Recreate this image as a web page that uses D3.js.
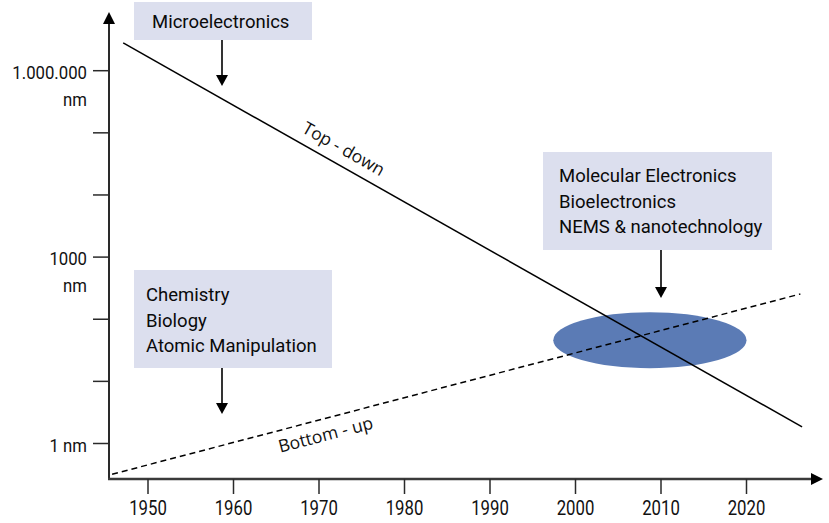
<!DOCTYPE html>
<html>
<head>
<meta charset="utf-8">
<script src="https://cdn.jsdelivr.net/npm/d3@7"></script>
<style>
  html, body { margin: 0; padding: 0; background: #fff; }
  svg { display: block; }
  text { font-family: Roboto, "Liberation Sans", sans-serif; fill: #111; }
</style>
</head>
<body>
<svg id="chart" width="829" height="523"></svg>
<script>
// ---------- DATA ----------
const yearTicks = [1950, 1960, 1970, 1980, 1990, 2000, 2010, 2020];
const sizeTicks = [1, 10, 100, 1000, 10000, 100000, 1000000];
const sizeTickLabels = { 1: ["1 nm"], 1000: ["1000", "nm"], 1000000: ["1.000.000", "nm"] };

// Top-down trend (year, size in nm)
const topDownYears = [1947.1, 2026.5];
const topDownSizes = [2.8e6, 1.85];
// Bottom-up trend (year, size in nm)
const bottomUpYears = [1945.8, 2026.3];
const bottomUpSizes = [0.32, 255];

// Convergence zone
const zoneYear = 2008.7, zoneSize = 46, zoneHalfYears = 11.3, zoneHalfDecades = 0.45;

const boxTexts = [
  ["Microelectronics"],
  ["Chemistry", "Biology", "Atomic Manipulation"],
  ["Molecular Electronics", "Bioelectronics", "NEMS & nanotechnology"]
];

// ---------- LAYOUT ----------
const svg = d3.select("#chart");
const axisX0 = 109, axisY0 = 479;
const x = d3.scaleLinear().domain([1950, 2020]).range([148, 746.5]);
const y = d3.scaleLog().domain([1, 1e6]).range([443.5, 70.7]);
const axisColor = "#2a2a2a";

// Boxes (layout)
const boxes = [
  { x: 134, y: 2, w: 178, h: 38, tx: 152, ty: 28, arrowX: 222, arrowTip: 86 },
  { x: 134, y: 270, w: 198, h: 98, tx: 146, ty: 301, arrowX: 222, arrowTip: 414 },
  { x: 543, y: 152, w: 229, h: 98, tx: 559, ty: 182, arrowX: 661, arrowTip: 298 }
];
const lineGap = 25.7;

boxes.forEach((b, i) => {
  svg.append("rect").attr("x", b.x).attr("y", b.y).attr("width", b.w).attr("height", b.h)
    .attr("fill", "#dcdfee");
  boxTexts[i].forEach((t, j) => {
    svg.append("text").attr("x", b.tx).attr("y", b.ty + j * lineGap)
      .attr("font-size", 18.5).style("fill", "#0a0a0a").text(t);
  });
  svg.append("line").attr("x1", b.arrowX).attr("x2", b.arrowX)
    .attr("y1", b.y + b.h).attr("y2", b.arrowTip - 10)
    .attr("stroke", "#000").attr("stroke-width", 1.6);
  svg.append("path")
    .attr("d", `M${b.arrowX - 6},${b.arrowTip - 11} L${b.arrowX + 6},${b.arrowTip - 11} L${b.arrowX},${b.arrowTip} Z`)
    .attr("fill", "#000");
});

// Convergence ellipse
const ecx = x(zoneYear), ecy = y(zoneSize);
svg.append("ellipse").attr("cx", ecx).attr("cy", ecy)
  .attr("rx", x(zoneYear + zoneHalfYears) - ecx)
  .attr("ry", ecy - y(zoneSize * Math.pow(10, zoneHalfDecades)))
  .attr("fill", "#5b7bb5");

// Trend lines
const lineGen = d3.line().x(d => x(d[0])).y(d => y(d[1]));
const td = topDownYears.map((yr, i) => [yr, topDownSizes[i]]);
const bu = bottomUpYears.map((yr, i) => [yr, bottomUpSizes[i]]);
svg.append("path").attr("d", lineGen(td)).attr("fill", "none")
  .attr("stroke", "#000").attr("stroke-width", 1.5);
svg.append("path").attr("d", lineGen(bu)).attr("fill", "none")
  .attr("stroke", "#000").attr("stroke-width", 1.5).attr("stroke-dasharray", "6,4");

// Line labels
function angleOf(p) {
  const dx = x(p[1][0]) - x(p[0][0]), dy = y(p[1][1]) - y(p[0][1]);
  return Math.atan2(dy, dx) * 180 / Math.PI;
}
svg.append("text").attr("transform", `translate(343,150) rotate(${angleOf(td)})`)
  .attr("text-anchor", "middle").attr("dominant-baseline", "middle")
  .style("font-family", "'Open Sans', 'DejaVu Sans', sans-serif")
  .attr("font-size", 17.5).text("Top - down");
svg.append("text").attr("transform", `translate(326,436) rotate(${angleOf(bu)})`)
  .attr("text-anchor", "middle").attr("dominant-baseline", "middle")
  .style("font-family", "'Open Sans', 'DejaVu Sans', sans-serif")
  .attr("font-size", 17.5).text("Bottom - up");

// Axes
svg.append("line").attr("x1", axisX0).attr("x2", axisX0).attr("y1", axisY0 + 1).attr("y2", 22)
  .attr("stroke", axisColor).attr("stroke-width", 2);
svg.append("path").attr("d", `M${axisX0 - 6},24 L${axisX0 + 6},24 L${axisX0},12 Z`).attr("fill", "#000");
svg.append("line").attr("x1", axisX0 - 1).attr("x2", 813).attr("y1", axisY0).attr("y2", axisY0)
  .attr("stroke", "#3a3a3a").attr("stroke-width", 2.5);
svg.append("path").attr("d", `M811,${axisY0 - 6} L811,${axisY0 + 6} L823,${axisY0} Z`).attr("fill", "#000");

// x ticks
const xg = svg.append("g");
yearTicks.forEach(t => {
  xg.append("line").attr("x1", x(t)).attr("x2", x(t)).attr("y1", axisY0).attr("y2", axisY0 + 15)
    .attr("stroke", axisColor).attr("stroke-width", 1.5);
  xg.append("text").attr("transform", `translate(${x(t)},515) scale(0.86,1)`)
    .attr("text-anchor", "middle").attr("font-size", 19.5).text(t);
});

// y ticks
const yg = svg.append("g");
sizeTicks.forEach(t => {
  yg.append("line").attr("x1", axisX0 - 16).attr("x2", axisX0).attr("y1", y(t)).attr("y2", y(t))
    .attr("stroke", axisColor).attr("stroke-width", 1.5);
  const lab = sizeTickLabels[t];
  if (lab) {
    lab.forEach((s, j) => {
      yg.append("text").attr("transform", `translate(87,${y(t) + 8 + j * 27}) scale(0.93,1)`)
        .attr("text-anchor", "end").attr("font-size", 18).text(s);
    });
  }
});
</script>
</body>
</html>
